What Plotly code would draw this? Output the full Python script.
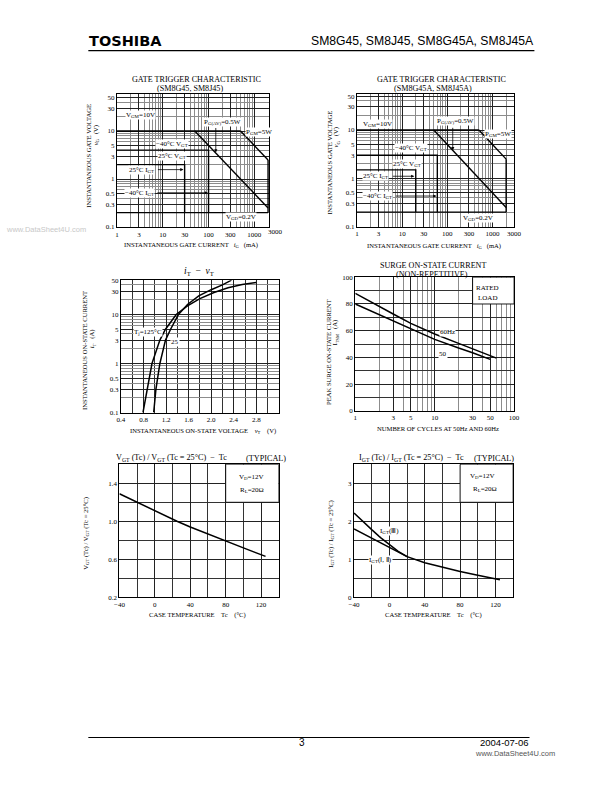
import plotly.graph_objects as go

W, H = 612, 792
SERIF = "Liberation Serif"
SANS = "Liberation Sans"

# ---------------- data ----------------
# Gate trigger characteristic - ratings (iG in mA, vG in V)
vgm_ig = [1, 500];      vgm_vg = [10, 10]
pgm_ig = [500, 2000];   pgm_vg = [10, 2.5]
pgav_ig = [50, 2000];   pgav_vg = [10, 0.25]
igm_ig = [2000, 2000];  igm_vg = [2.5, 0.2]
vgd_ig = [1, 2000];     vgd_vg = [0.2, 0.2]
# SM8G45 / SM8J45 trigger boxes
g45_25_ig = [1, 30, 30];     g45_25_vg = [2, 2, 0.2]
g45_m40_ig = [1, 100, 100];  g45_m40_vg = [4, 4, 0.2]
# SM8G45A / SM8J45A trigger boxes
g45a_25_ig = [1, 20, 20];    g45a_25_vg = [1.5, 1.5, 0.2]
g45a_m40_ig = [1, 60, 60];   g45a_m40_vg = [3, 3, 0.2]

# iT - vT
vt_125 = [0.79, 0.86, 0.95, 1.09, 1.19, 1.38, 1.58, 1.80, 2.05, 2.30, 2.55, 2.80]
it_125 = [0.1, 0.3, 1, 3, 5, 10, 15, 21, 28, 35, 41, 45]
vt_25 = [0.98, 1.02, 1.09, 1.19, 1.28, 1.42, 1.58, 1.78, 2.00, 2.20, 2.36]
it_25 = [0.1, 0.3, 1, 3, 5, 10, 16, 24, 32, 40, 50]

# Surge on-state current
cyc_60 = [1, 2, 3, 5, 10, 20, 30, 60]
itsm_60 = [88, 78, 72.5, 65.5, 57.5, 50.5, 46.5, 39.5]
cyc_50 = [1, 2, 3, 5, 10, 20, 30, 50]
itsm_50 = [80, 72, 67, 61, 53.5, 47, 43.5, 38.5]
rated_box_cyc = [30, 100]
rated_box_a = [80, 100]

# VGT(Tc)/VGT(25C)
tc_vgt = [-40, -20, 0, 25, 40, 60, 80, 100, 125]
vgt_ratio = [1.29, 1.20, 1.11, 1.00, 0.94, 0.865, 0.79, 0.72, 0.63]
cond_box_tc = [80, 140]
vgt_box = [1.2, 1.6]

# IGT(Tc)/IGT(25C)
tc_igt12 = [-40, -20, 0, 20, 40, 60, 80, 100, 125]
igt12 = [1.80, 1.55, 1.31, 1.07, 0.91, 0.79, 0.68, 0.58, 0.46]
tc_igt3 = [-40, -30, -20, -10, 0, 10, 20]
igt3 = [2.22, 1.99, 1.78, 1.57, 1.38, 1.21, 1.07]
igt_box = [2.5, 3.5]

# tick labels and extra grid values
ig_lab = [1, 3, 10, 30, 100, 300, 1000, 3000]
ig_grid = [2, 4, 5, 6, 7, 8, 9, 20, 40, 50, 60, 70, 80, 90,
           200, 400, 500, 600, 700, 800, 900, 2000]
v_lab = [0.1, 0.3, 0.5, 1, 3, 5, 10, 30, 50]
v_grid = [0.2, 0.4, 0.6, 0.7, 0.8, 0.9, 2, 4, 6, 7, 8, 9, 20, 40]
vt_lab = [0.4, 0.8, 1.2, 1.6, 2.0, 2.4, 2.8]
vt_grid = [0.6, 1.0, 1.4, 1.8, 2.2, 2.6, 3.0, 3.2]
cyc_lab = [1, 3, 5, 10, 30, 50, 100]
cyc_grid = [2, 4, 6, 7, 8, 9, 20, 40, 60, 70, 80, 90]
amp_lab = [0, 20, 40, 60, 80, 100]
amp_grid = [10, 30, 50, 70, 90]
tc_lab = [-40, 0, 40, 80, 120]
tc_grid = [-20, 20, 60, 100, 140]
vr_lab = [0.2, 0.6, 1.0, 1.4]
vr_grid = [0.4, 0.8, 1.2, 1.6]
ir_lab = [0, 1, 2, 3]
ir_grid = [0.5, 1.5, 2.5, 3.5]

# ---------------- helpers ----------------
def X(p):
    return p / W

def Y(p):
    return 1 - p / H

def g(v):
    return f"{v:g}".replace('-', '\u2212')

def f1(v):
    return f"{v:.1f}"

layout_axes = {}

def add_axis(n, letter, dom_px, typ, rng, labels, grid, fmt=g, grid_color='#333333'):
    suf = '' if n == 1 else str(n)
    other = 'y' if letter == 'x' else 'x'
    if letter == 'x':
        dom = [X(dom_px[0]), X(dom_px[1])]
    else:
        dom = [Y(dom_px[1]), Y(dom_px[0])]
    ax = dict(domain=dom, anchor=other + suf, type=typ, range=rng,
              tickmode='array', tickvals=labels, ticktext=[fmt(v) for v in labels],
              showgrid=True, gridcolor='#222222', gridwidth=0.9,
              showline=True, mirror=True, linecolor='black', linewidth=1.2,
              ticks='', zeroline=False, fixedrange=True,
              tickfont=dict(family=SERIF, size=7, color='black'),
              minor=dict(tickmode='array', tickvals=grid, showgrid=True,
                         gridcolor=grid_color, gridwidth=0.8, ticks=''))
    layout_axes[('xaxis' if letter == 'x' else 'yaxis') + suf] = ax

fig = go.Figure()

def line(n, xs, ys, w=1.4, fill=False):
    suf = '' if n == 1 else str(n)
    fig.add_trace(go.Scatter(
        x=xs, y=ys, xaxis='x' + suf, yaxis='y' + suf, mode='lines',
        line=dict(color='black', width=w), hoverinfo='skip', showlegend=False,
        fill='toself' if fill else None, fillcolor='white'))

def box(n, xr, yr):
    line(n, [xr[0], xr[1], xr[1], xr[0], xr[0]], [yr[0], yr[0], yr[1], yr[1], yr[0]], w=0.9, fill=True)

ann = []

def txt(x, y, s, size=7, bg=None, angle=0, family=SERIF, color='black', xanchor='center'):
    ann.append(dict(x=X(x), y=Y(y), xref='paper', yref='paper', text=s, showarrow=False,
                    font=dict(family=family, size=size, color=color), xanchor=xanchor,
                    yanchor='middle', textangle=angle, bgcolor=bg, borderpad=0))

def arrow(x_tip, y_tip, dx, dy):
    ann.append(dict(x=X(x_tip), y=Y(y_tip), xref='paper', yref='paper', text='',
                    showarrow=True, ax=dx, ay=dy, arrowhead=2, arrowsize=0.8,
                    arrowwidth=0.8, arrowcolor='black'))

GRAY = '#8c8c8c'

# ---------------- chart 1 : gate trigger SM8G45/SM8J45 ----------------
add_axis(1, 'x', (114.3, 269.3), 'log', [0, 3.322], ig_lab, ig_grid, grid_color=GRAY)
add_axis(1, 'y', (91, 225.3), 'log', [-1, 1.77], v_lab, v_grid, grid_color=GRAY)
for xs, ys in [(vgm_ig, vgm_vg), (pgm_ig, pgm_vg), (pgav_ig, pgav_vg), (igm_ig, igm_vg),
               (vgd_ig, vgd_vg), (g45_25_ig, g45_25_vg), (g45_m40_ig, g45_m40_vg)]:
    line(1, xs, ys)

# ---------------- chart 2 : gate trigger SM8G45A/SM8J45A ----------------
add_axis(2, 'x', (359, 519.3), 'log', [0, 3.4772], ig_lab, ig_grid, grid_color=GRAY)
add_axis(2, 'y', (90.7, 225), 'log', [-1, 1.75], v_lab, v_grid, grid_color=GRAY)
for xs, ys in [(vgm_ig, vgm_vg), (pgm_ig, pgm_vg), (pgav_ig, pgav_vg), (igm_ig, igm_vg),
               (vgd_ig, vgd_vg), (g45a_25_ig, g45a_25_vg), (g45a_m40_ig, g45a_m40_vg)]:
    line(2, xs, ys)

# ---------------- chart 3 : iT - vT ----------------
add_axis(3, 'x', (118.3, 279.3), 'linear', [0.4, 3.2], vt_lab, vt_grid, fmt=f1)
add_axis(3, 'y', (279, 412.7), 'log', [-1, 1.6991], v_lab, v_grid, grid_color=GRAY)
line(3, vt_125, it_125, 1.5)
line(3, vt_25, it_25, 1.5)

# ---------------- chart 4 : surge ----------------
add_axis(4, 'x', (357.3, 519.3), 'log', [0, 2.0002], cyc_lab, cyc_grid, grid_color=GRAY)
add_axis(4, 'y', (276, 411), 'linear', [0, 100.05], amp_lab, amp_grid)
box(4, rated_box_cyc, rated_box_a)
line(4, cyc_60, itsm_60, 1.5)
line(4, cyc_50, itsm_50, 1.5)

# ---------------- chart 5 : VGT ratio ----------------
add_axis(5, 'x', (116.7, 279.3), 'linear', [-40, 140], tc_lab, tc_grid)
add_axis(5, 'y', (465, 599.3), 'linear', [0.2, 1.6], vr_lab, vr_grid, fmt=f1)
box(5, cond_box_tc, vgt_box)
line(5, tc_vgt, vgt_ratio, 1.5)

# ---------------- chart 6 : IGT ratio ----------------
add_axis(6, 'x', (356, 518.3), 'linear', [-40, 140], tc_lab, tc_grid)
add_axis(6, 'y', (465, 599.3), 'linear', [0, 3.5], ir_lab, ir_grid)
box(6, cond_box_tc, igt_box)
line(6, tc_igt12, igt12, 1.5)
line(6, tc_igt3, igt3, 1.5)

# ---------------- text ----------------
T = 8.1   # chart title size
A = 6.6   # axis title size
L = 7     # inner label size
WB = 'white'

# chart 1
txt(195, 76.5, "GATE TRIGGER CHARACTERISTIC", T)
txt(189, 85.8, "(SM8G45, SM8J45)", T)
txt(85, 153, "INSTANTANEOUS GATE VOLTAGE", A, angle=-90)
txt(92.5, 133, "<i>v</i><sub>G</sub>   (V)", A, angle=-90)
txt(190, 243, "INSTANTANEOUS GATE CURRENT   <i>i</i><sub>G</sub>   (mA)", A)
txt(275.5, 230.5, "3000", 7)
txt(138.3, 111.7, "V<sub>GM</sub>=10V", L, WB)
txt(221.5, 119, "P<sub>G(AV)</sub>=0.5W", L, WB)
arrow(215, 150, 0, -26)
txt(259, 129.5, "P<sub>GM</sub>=5W", L, WB)
txt(170, 141, "\u221240°C V<sub>GT</sub>", L, WB)
txt(170.5, 154, "25°C V<sub>GT</sub>", L, WB)
txt(139, 167.3, "25°C I<sub>GT</sub>", L, WB)
arrow(182, 167.3, -27, 0)
txt(136.7, 190.7, "\u221240°C I<sub>GT</sub>", L, WB)
arrow(207, 190.7, -52, 0)
txt(241, 215.5, "V<sub>GD</sub>=0.2V", L, WB)

# chart 2
txt(445, 76.5, "GATE TRIGGER CHARACTERISTIC", T)
txt(437, 85.8, "(SM8G45A, SM8J45A)", T)
txt(330.7, 160, "INSTANTANEOUS GATE VOLTAGE", A, angle=-90)
txt(337.5, 135, "<i>v</i><sub>G</sub>   (V)", A, angle=-90)
txt(438, 244, "INSTANTANEOUS GATE CURRENT   <i>i</i><sub>G</sub>   (mA)", A)
txt(380, 121.7, "V<sub>GM</sub>=10V", L, WB)
txt(460, 118.3, "P<sub>G(AV)</sub>=0.5W", L, WB)
arrow(456.7, 147.8, 0, -24)
txt(503.3, 131, "P<sub>GM</sub>=5W", L, WB)
txt(414, 145.7, "\u221240°C V<sub>GT</sub>", L, WB)
txt(410, 161.7, "25°C V<sub>GT</sub>", L, WB)
txt(378.3, 174, "25°C I<sub>GT</sub>", L, WB)
arrow(417.5, 174, -23, 0)
txt(380, 194, "\u221240°C I<sub>GT</sub>", L, WB)
arrow(440, 194, -42, 0)
txt(482.7, 215.7, "V<sub>GD</sub>=0.2V", L, WB)

# chart 3
txt(198, 270.5, "<i>i</i><sub>T</sub>  \u2212  <i>v</i><sub>T</sub>", 9.5)
txt(81, 350, "INSTANTANEOUS ON-STATE CURRENT", A, angle=-90)
txt(88.5, 338, "<i>i</i><sub>T</sub>   (A)", A, angle=-90)
txt(201.7, 431.7, "INSTANTANEOUS ON-STATE VOLTAGE    <i>v</i><sub>T</sub>    (V)", A)
txt(146, 331, "T<sub>j</sub>=125°C", L, WB)
txt(173.3, 341.5, "25", L, WB)

# chart 4
txt(436.7, 264.2, "SURGE ON-STATE CURRENT", T)
txt(435.7, 273.3, "(NON-REPETITIVE)", T)
txt(329.3, 351.7, "PEAK SURGE ON-STATE CURRENT", A, angle=-90)
txt(336.5, 332, "I<sub>TSM</sub>   (A)", A, angle=-90)
txt(441.7, 429, "NUMBER OF CYCLES AT 50Hz AND 60Hz", A)
txt(492.3, 286.7, "RATED", L)
txt(492.3, 297.3, "LOAD", L)
txt(451, 331, "60Hz", L, WB)
txt(446.7, 353.5, "50", L, WB)

# chart 5
txt(170, 459, "V<sub>GT</sub> (Tc) / V<sub>GT</sub> (Tc = 25°C)  \u2212  Tc", 8.2)
txt(266, 459, "(TYPICAL)", 8.2)
txt(81.7, 535, "V<sub>GT</sub> (Tc) / V<sub>GT</sub> (Tc = 25°C)", A, angle=-90)
txt(196.7, 617, "CASE TEMPERATURE    Tc    (°C)", A)
txt(251.7, 478.3, "V<sub>D</sub>=12V", L)
txt(251.7, 490.7, "R<sub>L</sub>=20\u03a9", L)

# chart 6
txt(415, 459, "I<sub>GT</sub> (Tc) / I<sub>GT</sub> (Tc = 25°C)  \u2212  Tc", 8.2)
txt(498.3, 459, "(TYPICAL)", 8.2)
txt(331.7, 535, "I<sub>GT</sub> (Tc) / I<sub>GT</sub> (Tc = 25°C)", A, angle=-90)
txt(436.7, 617, "CASE TEMPERATURE    Tc    (°C)", A)
txt(486.7, 476.7, "V<sub>D</sub>=12V", L)
txt(490, 490, "R<sub>L</sub>=20\u03a9", L)
txt(391.7, 532.3, "I<sub>GT</sub>(\u2162)", L, WB)
txt(383.3, 561.7, "I<sub>GT</sub>(\u2160, \u2161)", L, WB)

# header / footer
txt(85, 37, "<b>TOSHIBA</b>", 14.5, family="DejaVu Sans", xanchor='left')
txt(541, 37, "SM8G45, SM8J45, SM8G45A, SM8J45A", 12.2, family=SANS, xanchor='right')
txt(303, 746, "3", 10, family=SANS)
txt(535, 746, "2004-07-06", 9.5, family=SANS, xanchor='right')
txt(562, 757, "www.DataSheet4U.com", 7.5, family=SANS, color='#555555', xanchor='right')
txt(84, 228, "www.DataSheet4U.com", 7.5, family=SANS, color='#c8c8c8', xanchor='right')

shapes = [
    dict(type='line', xref='paper', yref='paper', x0=X(85), x1=X(540), y0=Y(47), y1=Y(47),
         line=dict(color='black', width=1.2)),
    dict(type='line', xref='paper', yref='paper', x0=X(85), x1=X(535), y0=Y(741), y1=Y(741),
         line=dict(color='black', width=1)),
]

fig.update_layout(width=W, height=H, margin=dict(l=0, r=0, t=0, b=0, pad=0),
                  paper_bgcolor='white', plot_bgcolor='white', showlegend=False,
                  annotations=ann, shapes=shapes, **layout_axes)
fig.write_html("out.html", config=dict(displayModeBar=False))
